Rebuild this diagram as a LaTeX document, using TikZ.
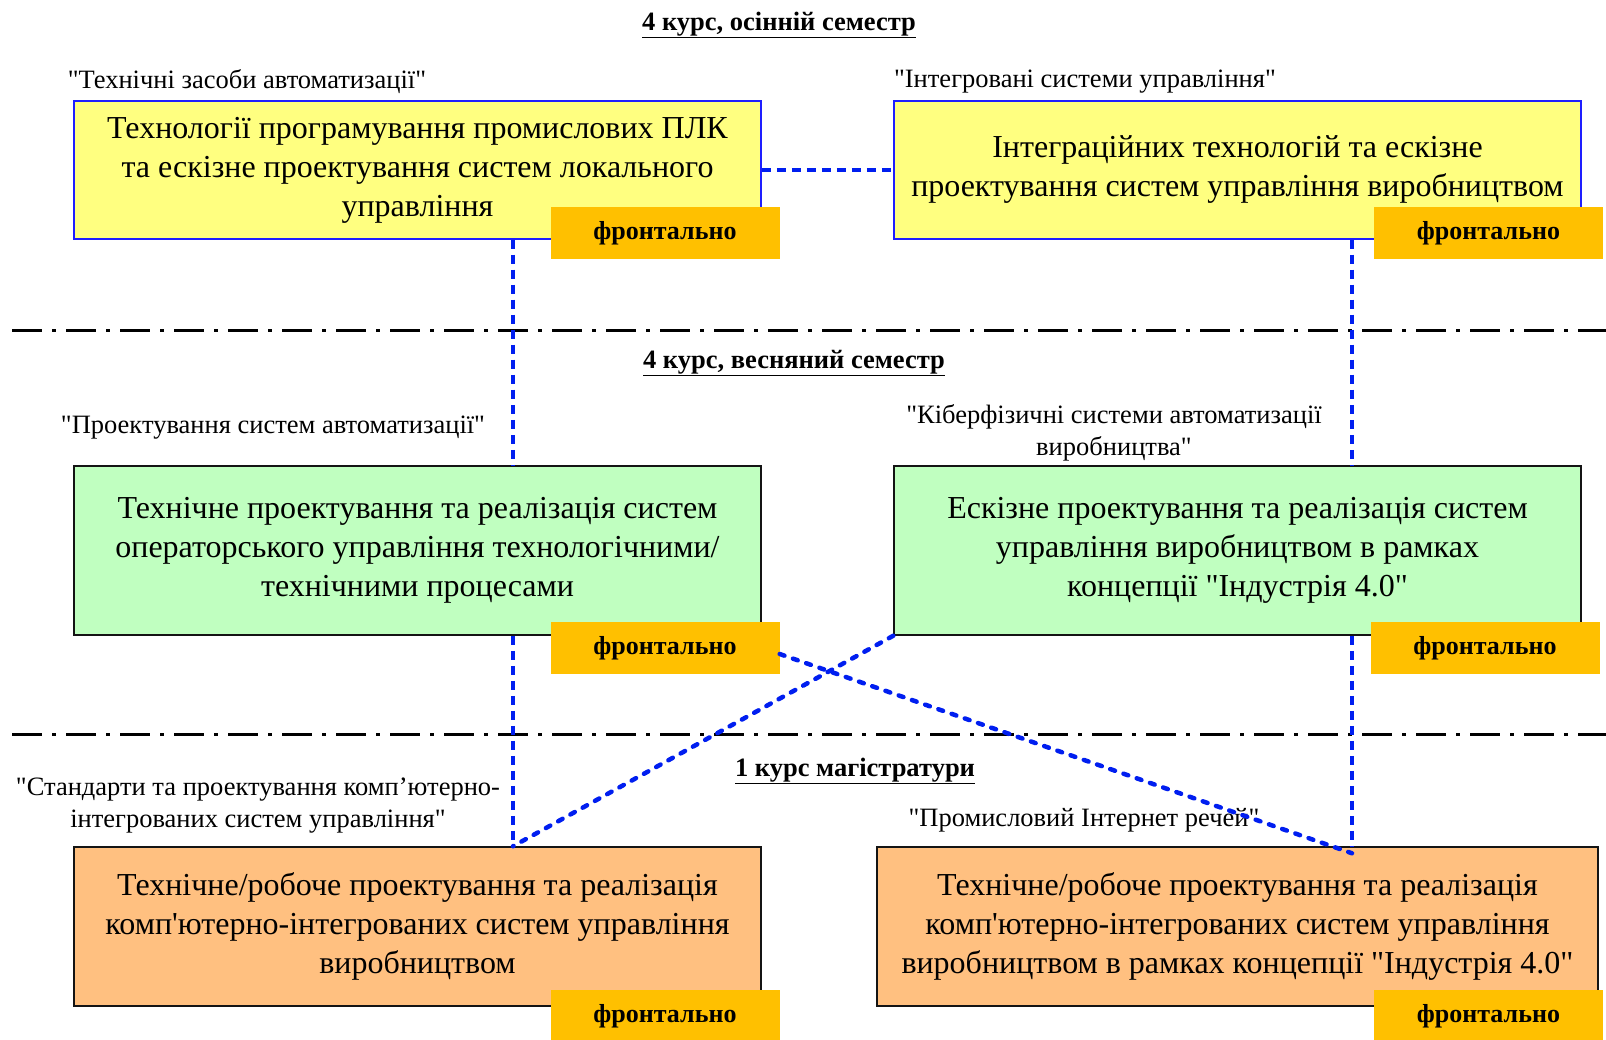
\documentclass[tikz,border=0pt]{standalone}
\usepackage{fontspec}
\setmainfont{Liberation Serif}[Ligatures=TeXOff]
\begin{document}
\begin{tikzpicture}[x=1pt,y=-1pt,
  box/.style={draw, line width=1.5pt, minimum width=#1, align=center,
    font=\fontsize{32}{39}\selectfont, inner sep=0pt},
  ybox/.style={box=687pt, draw={rgb,255:red,30;green,30;blue,255}, fill={rgb,255:red,255;green,255;blue,128}, minimum height=138pt},
  gbox/.style={box=687pt, draw={rgb,255:red,20;green,20;blue,20}, fill={rgb,255:red,192;green,255;blue,192}, minimum height=169pt},
  obox/.style={box=#1, draw={rgb,255:red,20;green,20;blue,20}, fill={rgb,255:red,255;green,192;blue,128}, minimum height=159pt},
  tag/.style={fill={rgb,255:red,255;green,192;blue,0}, minimum width=229pt, minimum height=52pt,
    inner sep=0pt, font=\fontsize{26}{30}\selectfont\bfseries},
  lbl/.style={align=center, inner sep=0pt, font=\fontsize{26.5}{32}\selectfont},
  sem/.style={inner sep=0pt, font=\fontsize{26.5}{30}\selectfont\bfseries},
  link/.style={draw={rgb,255:red,0;green,30;blue,240}, line width=4pt, dash pattern=on 9pt off 6pt},
  dots/.style={draw={rgb,255:red,0;green,30;blue,240}, line width=4.5pt, line cap=round, dash pattern=on 5pt off 9pt},
  sep/.style={draw=black, line width=3pt, dash pattern=on 30pt off 10pt on 4pt off 10pt}
]
\useasboundingbox (0,0) rectangle (1606,1040);

% semester separators
\coordinate (s1a) at (12,331);
\coordinate (s1b) at (1606,331);
\coordinate (s2a) at (12,734);
\coordinate (s2b) at (1606,734);
\draw[sep] (s1a) -- (s1b);
\draw[sep] (s2a) -- (s2b);

% semester headings
\node[sem] (h1) at (779,25) {\underline{4 курс, осінній семестр}};
\node[sem] (h2) at (794,363) {\underline{4 курс, весняний семестр}};
\node[sem] (h3) at (855,771) {\underline{1 курс магістратури}};

% course titles
\node[lbl] (c1) at (247,82) {"Технічні засоби автоматизації"};
\node[lbl] (c2) at (1085,82) {"Інтегровані системи управління"};
\node[lbl] (c3) at (273,428) {"Проектування систем автоматизації"};
\node[lbl] (c4) at (1114,433) {"Кіберфізичні системи автоматизації\\виробництва"};
\node[lbl] (c5) at (258,806) {"Стандарти та проектування комп’ютерно-\\інтегрованих систем управління"};
\node[lbl] (c6) at (1084,820) {"Промисловий Інтернет речей"};

% 4th year, autumn
\node[ybox] (b1) at (417.5,170) {Технології програмування промислових ПЛК\\та ескізне проектування систем локального\\управління};
\node[ybox] (b2) at (1237.5,170) {Інтеграційних технологій та ескізне\\проектування систем управління виробництвом};

% 4th year, spring
\node[gbox] (b3) at (417.5,550.5) {Технічне проектування та реалізація систем\\операторського управління технологічними/\\технічними процесами};
\node[gbox] (b4) at (1237.5,550.5) {Ескізне проектування та реалізація систем\\управління виробництвом в рамках\\концепції "Індустрія 4.0"};

% master, 1st year
\node[obox=687pt] (b5) at (417.5,926.5) {Технічне/робоче проектування та реалізація\\комп'ютерно-інтегрованих систем управління\\виробництвом};
\node[obox=721pt] (b6) at (1237.5,926.5) {Технічне/робоче проектування та реалізація\\комп'ютерно-інтегрованих систем управління\\виробництвом в рамках концепції "Індустрія 4.0"};

% connector anchors on the box edges
\coordinate (xl) at (513,0);
\coordinate (xr) at (1352,0);

% links between courses
\draw[link] (b1.east) -- (b2.west);
\draw[link] (b1.south -| xl) -- (b3.north -| xl);
\draw[link] (b2.south -| xr) -- (b4.north -| xr);
\draw[link] (b3.south -| xl) -- (b5.north -| xl);
\draw[link] (b4.south -| xr) -- (b6.north -| xr);

% delivery form tags
\node[tag] (t1) at (665,233) {фронтально};
\node[tag] (t2) at (1488.5,233) {фронтально};
\node[tag] (t3) at (665,648) {фронтально};
\node[tag] (t4) at (1485,648) {фронтально};
\node[tag] (t5) at (665,1016) {фронтально};
\node[tag] (t6) at (1488.5,1016) {фронтально};

% cross links
\coordinate (e3) at ([yshift=-6pt]t3.east);
\coordinate (e6) at ([yshift=-7pt]b6.north -| xr);
\draw[dots] (b4.south west) -- (b5.north -| xl);
\draw[dots] (e3) -- (e6);
\end{tikzpicture}
\end{document}
